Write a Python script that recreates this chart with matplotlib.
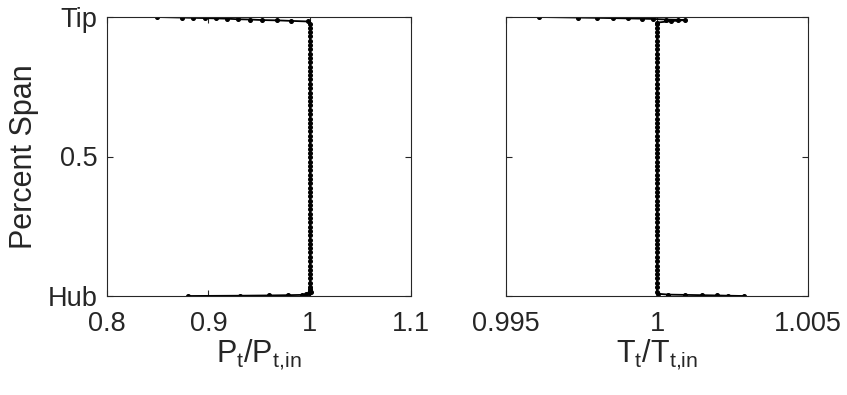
import matplotlib
matplotlib.use("Agg")
import matplotlib.pyplot as plt

plt.rcParams['font.family'] = ['Liberation Sans', 'DejaVu Sans']
plt.rcParams['mathtext.fontset'] = 'custom'
plt.rcParams['mathtext.rm'] = 'Liberation Sans'
plt.rcParams['mathtext.it'] = 'Liberation Sans'

# ---- Data: total pressure ratio profile ----
pt_hub_x = [0.880, 0.931, 0.960, 0.979, 0.992, 0.996, 0.999, 1.0015, 1.0008, 1.0002]
pt_hub_y = [0.000, 0.001, 0.002, 0.003, 0.004, 0.006, 0.009, 0.013, 0.018, 0.024]

span_col = [0.032, 0.047, 0.063, 0.078, 0.094, 0.109, 0.125, 0.140, 0.156, 0.171,
            0.187, 0.202, 0.218, 0.233, 0.249, 0.264, 0.280, 0.295, 0.311, 0.326,
            0.342, 0.357, 0.373, 0.388, 0.404, 0.419, 0.435, 0.450, 0.466, 0.481,
            0.497, 0.512, 0.528, 0.543, 0.559, 0.574, 0.590, 0.605, 0.621, 0.636,
            0.652, 0.667, 0.683, 0.698, 0.714, 0.729, 0.745, 0.760, 0.776, 0.791,
            0.807, 0.822, 0.838, 0.853, 0.869, 0.884, 0.900, 0.915, 0.931, 0.946,
            0.962, 0.975]
pt_col = [1.0003] * len(span_col)

pt_tip_x = [0.998, 0.982, 0.968, 0.953, 0.941, 0.929, 0.918, 0.908, 0.897, 0.885, 0.874, 0.849]
pt_tip_y = [0.984, 0.986, 0.988, 0.989, 0.991, 0.992, 0.994, 0.995, 0.996, 0.997, 0.998, 1.000]

# ---- Data: total temperature ratio profile ----
tt_hub_x = [1.00289, 1.00236, 1.00198, 1.00148, 1.00093, 1.00037, 1.00004, 1.00000]
tt_hub_y = [0.000, 0.001, 0.002, 0.003, 0.004, 0.005, 0.008, 0.015]
tt_col = [1.00000] * len(span_col)
tt_tip_x = [1.00000, 1.00045, 1.00093, 1.00070, 1.00030, 0.99987, 0.99949, 0.99905,
            0.99855, 0.99802, 0.99739, 0.99610]
tt_tip_y = [0.980, 0.985, 0.989, 0.990, 0.991, 0.993, 0.994, 0.995, 0.996, 0.997, 0.998, 1.000]

pt_x = pt_hub_x + pt_col + pt_tip_x
pt_y = pt_hub_y + span_col + pt_tip_y
tt_x = tt_hub_x + tt_col + tt_tip_x
tt_y = tt_hub_y + span_col + tt_tip_y

pt_ticks = [0.8, 0.9, 1.0, 1.1]
pt_ticklabels = ['0.8', '0.9', '1', '1.1']
tt_ticks = [0.995, 1.0, 1.005]
tt_ticklabels = ['0.995', '1', '1.005']
span_ticks = [0, 0.5, 1]
span_ticklabels = ['Hub', '0.5', 'Tip']

fig = plt.figure(figsize=(8.47, 3.95), dpi=100)
ax1 = fig.add_axes([107/847, 99/395, 304/847, 279/395])
ax2 = fig.add_axes([506/847, 99/395, 302/847, 279/395])

txt = '#262626'
fs = 19.5
lfs = 22
for ax in (ax1, ax2):
    for s in ax.spines.values():
        s.set_color(txt)
        s.set_linewidth(0.8)
    ax.tick_params(direction='in', length=4, width=0.8, colors=txt, labelsize=fs,
                   top=True, right=True)
    ax.tick_params(axis='x', pad=11)
    ax.tick_params(axis='y', pad=7)
    ax.set_ylim(0, 1)
    ax.set_yticks(span_ticks)

ax1.plot(pt_x, pt_y, '-', color='black', lw=1.3, marker='o', ms=2.6)
ax1.set_xlim(0.8, 1.1)
ax1.set_xticks(pt_ticks)
ax1.set_xticklabels(pt_ticklabels)
ax1.set_yticklabels(span_ticklabels)
ax1.set_ylabel('Percent Span', fontsize=lfs, color=txt, labelpad=6)
ax1.set_xlabel(r'$\mathregular{P_t/P_{t{,}in}}$', fontsize=lfs, color=txt, labelpad=0)

ax2.plot(tt_x, tt_y, '-', color='black', lw=1.3, marker='o', ms=2.6)
ax2.set_xlim(0.995, 1.005)
ax2.set_xticks(tt_ticks)
ax2.set_xticklabels(tt_ticklabels)
ax2.set_yticklabels([])
ax2.set_xlabel(r'$\mathregular{T_t/T_{t{,}in}}$', fontsize=lfs, color=txt, labelpad=0)

fig.savefig('out.png', dpi=100)
